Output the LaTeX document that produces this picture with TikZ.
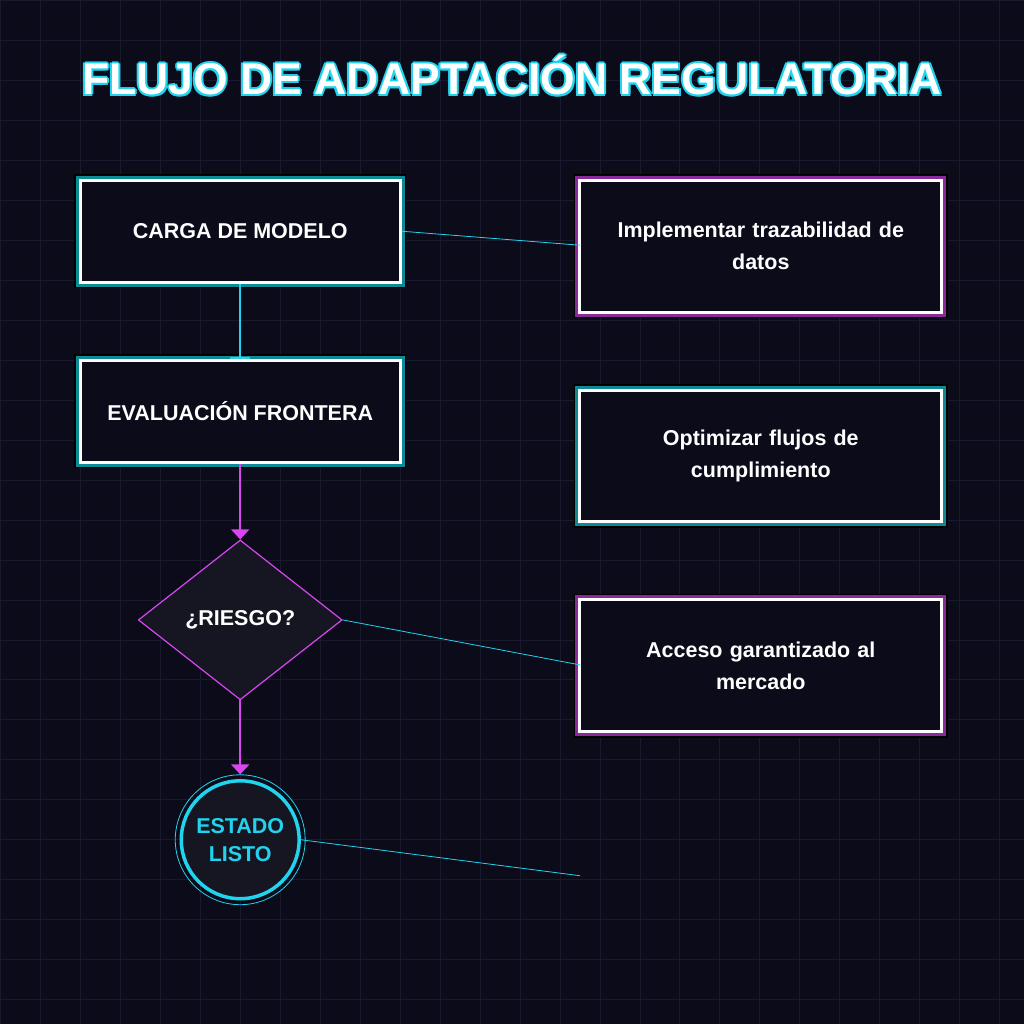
\documentclass[tikz,border=0pt]{standalone}
\usepackage{fontspec}
\setmainfont{Liberation Sans}
\usetikzlibrary{shapes.geometric,arrows.meta}
\definecolor{bg}{HTML}{0B0B19}
\definecolor{gridc}{HTML}{1A1A2E}
\definecolor{cy}{HTML}{22D3EE}
\definecolor{tl}{HTML}{0E8A96}
\definecolor{mg}{HTML}{D946EF}
\definecolor{pu}{HTML}{8B2A9A}
\definecolor{fillc}{HTML}{161622}
\begin{document}
\begin{tikzpicture}[x=1pt,y=-1pt,
 txt/.style={font=\bfseries\fontsize{21.5}{32}\selectfont,text=white,align=center},
 tbox/.style={txt,draw=white,line width=3pt,fill=bg,minimum width=320pt,minimum height=102pt,
   preaction={draw=tl,line width=9pt},inner sep=0pt},
 rbox/.style={txt,draw=white,line width=3pt,fill=bg,minimum width=362pt,minimum height=132pt,text width=340pt,
   preaction={draw=pu,line width=9pt},inner sep=0pt},
 rboxt/.style={rbox,preaction={draw=tl,line width=9pt}},
 shadow/.style={draw=none,fill=black},
 ttl/.style={font=\bfseries\fontsize{44.5}{44}\selectfont},
 thin/.style={cy,line width=0.8pt}]
\fill[bg] (0,0) rectangle (1024,1024);
\foreach \i in {0,40,...,1000}{\draw[gridc,line width=0.8pt] (\i,0)--(\i,1024); \draw[gridc,line width=0.8pt] (0,\i)--(1024,\i);}
\foreach \dx/\dy in {-2/0,2/0,0/-2,0/2,-1.5/-1.5,1.5/1.5,-1.5/1.5,1.5/-1.5}
  \node[ttl,text=cy] at (512+\dx,75+\dy) {FLUJO DE ADAPTACIÓN REGULATORIA};
\node[ttl,text=white] (title) at (512,75) {FLUJO DE ADAPTACIÓN REGULATORIA};
\node[shadow,minimum width=332pt,minimum height=114pt] at (240,231) {};
\node[tbox] (carga) at (240,231) {CARGA DE MODELO};
\node[shadow,minimum width=332pt,minimum height=114pt] at (240,411) {};
\node[tbox] (eval) at (240,411) {EVALUACIÓN FRONTERA};
\node[shadow,minimum width=374pt,minimum height=144pt] at (761,246) {};
\node[rbox] (r1) at (761,246) {Implementar trazabilidad de\\datos};
\node[shadow,minimum width=374pt,minimum height=144pt] at (761,456) {};
\node[rboxt] (r2) at (761,456) {Optimizar flujos de\\cumplimiento};
\node[shadow,minimum width=374pt,minimum height=144pt] at (761,666) {};
\node[rbox] (r3) at (761,666) {Acceso garantizado al\\mercado};
\node[diamond,draw=mg,line width=1.2pt,fill=fillc,minimum width=204pt,minimum height=160pt,inner sep=0pt,txt] (risk) at (240,620) {¿RIESGO?};
\node[circle,draw=cy,line width=0.8pt,minimum size=130pt] (outer) at (240,840) {};
\node[circle,draw=cy,line width=3.5pt,fill=fillc,minimum size=118pt,inner sep=0pt,txt,text=cy,font=\bfseries\fontsize{21.5}{28}\selectfont] (done) at (240,840) {ESTADO\\LISTO};
\coordinate (free) at (580,876);
\coordinate (r3in) at (580,665);
\coordinate (r1in) at (580,245);
\draw[cy,line width=2pt,-{Bar[width=20pt]}] (carga.south) -- (eval.north);
\draw[mg,line width=2pt,-{Triangle[width=18pt,length=10pt]}] (eval.south) -- (risk.north);
\draw[mg,line width=2pt,-{Triangle[width=18pt,length=10pt]}] (risk.south) -- (outer.north);
\draw[thin] (carga.east) -- (r1in);
\draw[thin] (risk.east) -- (r3in);
\draw[thin] (done.east) -- (free);
\end{tikzpicture}
\end{document}
